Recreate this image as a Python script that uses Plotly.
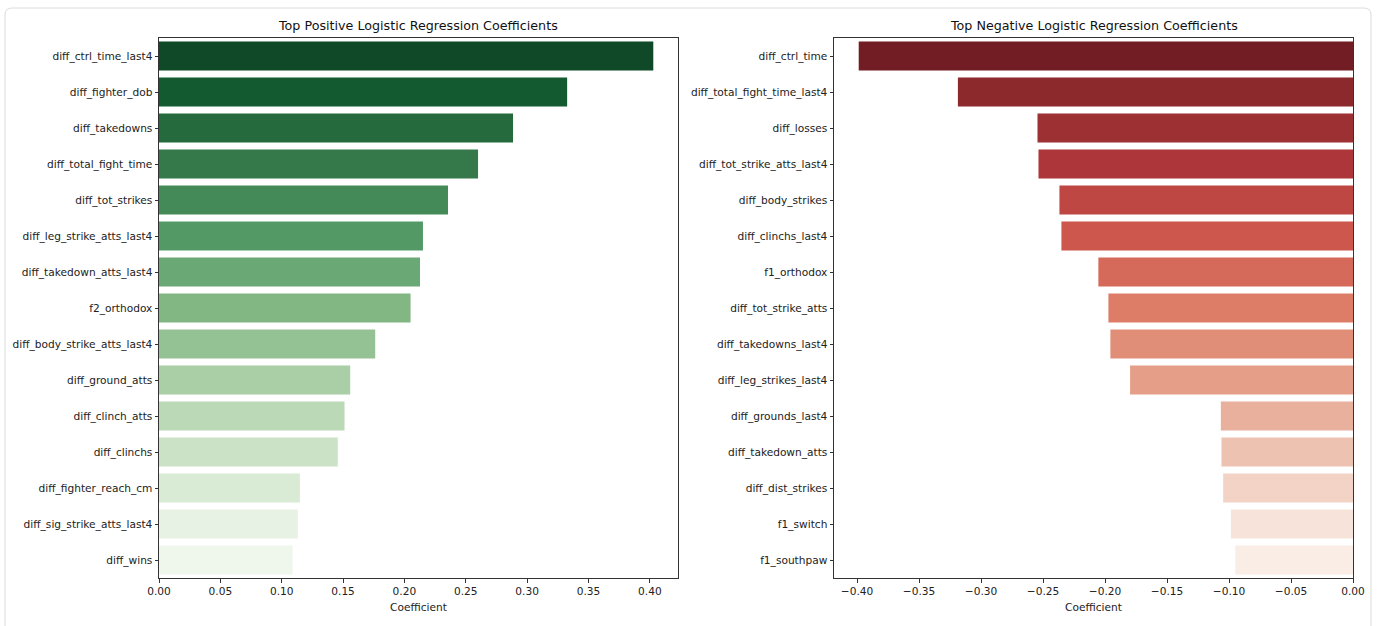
import colorsys
import plotly.graph_objects as go
from plotly.subplots import make_subplots
import plotly.colors as pc

# ---- data ----
pos_features = ["diff_ctrl_time_last4", "diff_fighter_dob", "diff_takedowns", "diff_total_fight_time",
                "diff_tot_strikes", "diff_leg_strike_atts_last4", "diff_takedown_atts_last4", "f2_orthodox",
                "diff_body_strike_atts_last4", "diff_ground_atts", "diff_clinch_atts", "diff_clinchs",
                "diff_fighter_reach_cm", "diff_sig_strike_atts_last4", "diff_wins"]
pos_values = [0.4028, 0.3326, 0.2885, 0.2600, 0.2355, 0.2151, 0.2127, 0.2050,
              0.1762, 0.1558, 0.1512, 0.1457, 0.1148, 0.1131, 0.1089]

neg_features = ["diff_ctrl_time", "diff_total_fight_time_last4", "diff_losses", "diff_tot_strike_atts_last4",
                "diff_body_strikes", "diff_clinchs_last4", "f1_orthodox", "diff_tot_strike_atts",
                "diff_takedowns_last4", "diff_leg_strikes_last4", "diff_grounds_last4", "diff_takedown_atts",
                "diff_dist_strikes", "f1_switch", "f1_southpaw"]
neg_values = [-0.3987, -0.3187, -0.2545, -0.2537, -0.2368, -0.2352, -0.2054, -0.1973,
              -0.1957, -0.1798, -0.1066, -0.1061, -0.1047, -0.0985, -0.0950]


def palette(scale, n, sat=0.66):
    # reversed sequential palette, seaborn-style bins, desaturated
    pts = [1 - (i + 1) / (n + 1) for i in range(n)]
    out = []
    for c in pc.sample_colorscale(scale, pts):
        r, g, b = pc.unlabel_rgb(c)
        h, l, s = colorsys.rgb_to_hls(r / 255, g / 255, b / 255)
        r, g, b = colorsys.hls_to_rgb(h, l, s * sat)
        out.append("rgb(%d,%d,%d)" % (round(r * 255), round(g * 255), round(b * 255)))
    return out


W, H = 1377, 626
FONT = "DejaVu Sans"

fig = make_subplots(rows=1, cols=2)
fig.add_trace(go.Bar(x=pos_values, y=pos_features, orientation="h", width=0.8,
                     marker=dict(color=palette(pc.sequential.Greens, len(pos_values)), line=dict(width=0)),
                     showlegend=False), row=1, col=1)
fig.add_trace(go.Bar(x=neg_values, y=neg_features, orientation="h", width=0.8,
                     marker=dict(color=palette(pc.sequential.Reds, len(neg_values)), line=dict(width=0)),
                     showlegend=False), row=1, col=2)

top_px, bot_px = 38, 578
ydom = [(H - bot_px) / H, (H - top_px) / H]
ax_common = dict(showline=True, linecolor="#333", linewidth=1, mirror=True, ticks="outside",
                 ticklen=3.5, tickcolor="#333", showgrid=False, zeroline=False, automargin=False,
                 tickfont=dict(family=FONT, size=10.6, color="#222"))
xt = dict(text="Coefficient", font=dict(family=FONT, size=10.6, color="#222"), standoff=7)

fig.update_xaxes(domain=[159 / W, 678 / W], range=[0, max(pos_values) * 1.05], dtick=0.05,
                 tickformat=".2f", title=xt, row=1, col=1, **ax_common)
fig.update_xaxes(domain=[834 / W, 1353 / W], range=[min(neg_values) * 1.05, 0], dtick=0.05,
                 tickformat=".2f", title=xt, row=1, col=2, **ax_common)
fig.update_yaxes(domain=ydom, range=[14.5, -0.5], row=1, col=1, **ax_common)
fig.update_yaxes(domain=ydom, range=[14.5, -0.5], row=1, col=2, **ax_common)

# titles
for xc, txt in [((159 + 678) / 2 / W, "Top Positive Logistic Regression Coefficients"),
                ((834 + 1353) / 2 / W, "Top Negative Logistic Regression Coefficients")]:
    fig.add_annotation(x=xc, y=1 - 26 / H, xref="paper", yref="paper", text=txt, showarrow=False,
                       font=dict(family=FONT, size=12.7, color="#111"), xanchor="center", yanchor="middle")

# card border (rounded)
x0, x1 = 5 / W, 1371 / W
y1, y0 = 1 - 8 / H, -0.05
rx, ry = 7 / W, 7 / H
path = (f"M {x0},{y0} L {x0},{y1 - ry} Q {x0},{y1} {x0 + rx},{y1} L {x1 - rx},{y1} "
        f"Q {x1},{y1} {x1},{y1 - ry} L {x1},{y0}")
fig.add_shape(type="path", path=path, xref="paper", yref="paper",
              line=dict(color="#dcdcdc", width=1), layer="below")

fig.update_layout(width=W, height=H, margin=dict(l=0, r=0, t=0, b=0, autoexpand=False),
                  paper_bgcolor="white", plot_bgcolor="white", bargap=0.2,
                  font=dict(family=FONT, size=10, color="#222"))

fig.write_html("out.html")
